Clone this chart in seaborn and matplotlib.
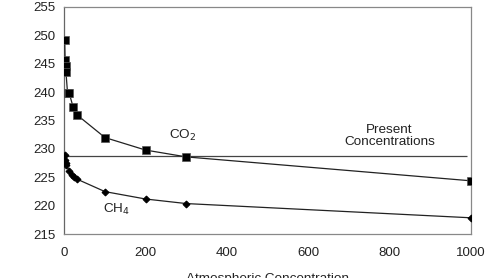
import matplotlib
matplotlib.use("Agg")
import matplotlib.pyplot as plt
import seaborn as sns
import pandas as pd

# values
co2_x = [1, 2, 3, 4, 8, 12, 22, 31, 100, 200, 300, 1000]
co2_y = [249.1, 245.6, 244.5, 243.6, 239.8, 239.8, 237.3, 236.0, 232.0, 229.8, 228.6, 224.4]
ch4_x = [1, 2, 3, 4, 12, 20, 25, 31, 100, 200, 300, 1000]
ch4_y = [228.9, 228.1, 227.5, 227.2, 226.2, 225.4, 225.1, 224.7, 222.5, 221.2, 220.4, 217.9]
present_level = 228.7
y_ticks = [215, 220, 225, 230, 235, 240, 245, 250, 255]
x_ticks = [0, 200, 400, 600, 800, 1000]

sns.set_style("white")
plt.rcParams['font.family'] = ['Liberation Sans', 'DejaVu Sans']
plt.rcParams['font.size'] = 9.5

fig = plt.figure(figsize=(4.86, 2.78), dpi=100)
ax = fig.add_axes([0.1323, 0.1572, 0.969 - 0.1323, 0.976 - 0.1572])

co2 = pd.DataFrame({"x": co2_x, "y": co2_y})
ch4 = pd.DataFrame({"x": ch4_x, "y": ch4_y})

ax.hlines(present_level, 0, 990, color="#444444", linewidth=0.9, zorder=1)
sns.lineplot(data=co2, x="x", y="y", ax=ax, color="#222222", linewidth=0.9,
             marker="s", markersize=5.5, markerfacecolor="black",
             markeredgecolor="#555555", markeredgewidth=0.5, zorder=3)
sns.lineplot(data=ch4, x="x", y="y", ax=ax, color="#222222", linewidth=0.9,
             marker="D", markersize=3.5, markerfacecolor="black",
             markeredgecolor="black", zorder=3)

ax.text(292, 232.4, "CO$_2$", ha="center", va="center", fontsize=9.7, color="#222222")
ax.text(129, 219.3, "CH$_4$", ha="center", va="center", fontsize=9.7, color="#222222")
ax.text(800, 232.2, "Present\nConcentrations", ha="center", va="center",
        fontsize=9.7, color="#222222", linespacing=1.0)

ax.set_xlim(0, 1000)
ax.set_ylim(215, 255)
ax.set_xticks(x_ticks)
ax.set_yticks(y_ticks)
ax.tick_params(axis="both", direction="out", length=3, width=0.8,
               color="#777777", labelsize=9.5, labelcolor="#222222", pad=3.5)
ax.tick_params(axis="x", pad=6.5)
for side in ["left", "right", "top", "bottom"]:
    ax.spines[side].set_color("#888888")
    ax.spines[side].set_linewidth(0.9)
ax.spines["left"].set_color("#666666")

ax.set_xlabel("Atmospheric Concentration", fontsize=9.7, color="#222222")
ax.xaxis.set_label_coords(0.5, -0.17)
ax.set_ylabel("Radiative Heat Flux, W/m$^2$", fontsize=9.7, color="#222222")
ax.yaxis.set_label_coords(-0.16, 0.5)

fig.savefig("out.png", dpi=100)
